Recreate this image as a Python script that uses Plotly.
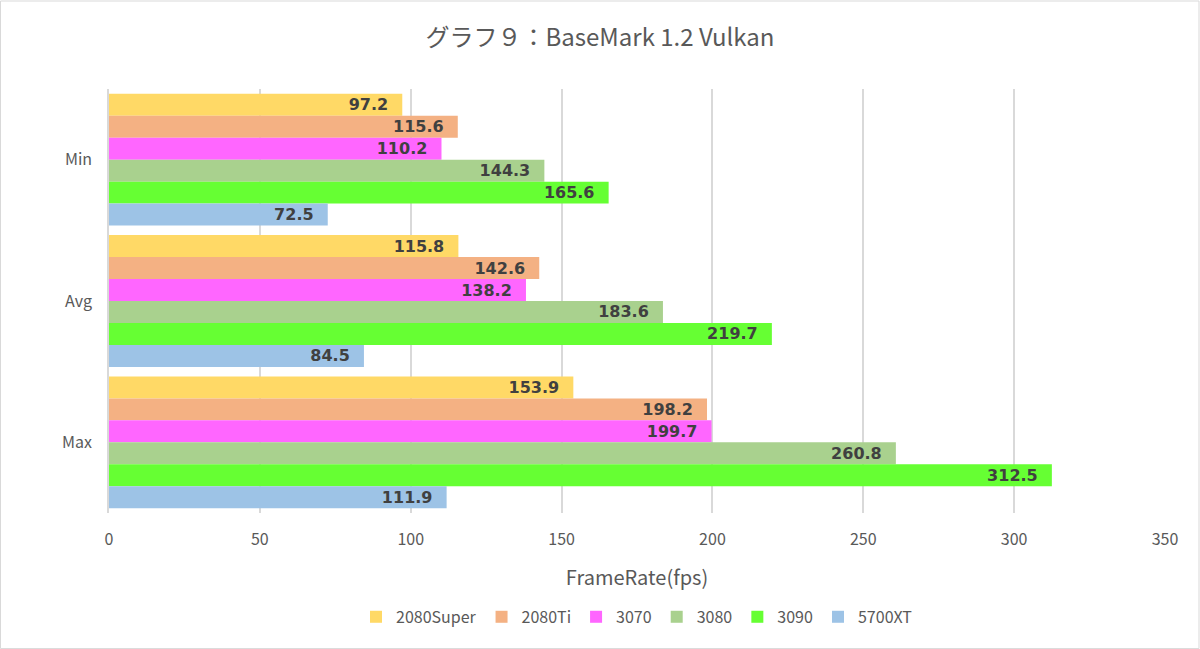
import plotly.graph_objects as go

categories = ["Min", "Avg", "Max"]
series_names = ["2080Super", "2080Ti", "3070", "3080", "3090", "5700XT"]
v_2080super = [97.2, 115.8, 153.9]
v_2080ti = [115.6, 142.6, 198.2]
v_3070 = [110.2, 138.2, 199.7]
v_3080 = [144.3, 183.6, 260.8]
v_3090 = [165.6, 219.7, 312.5]
v_5700xt = [72.5, 84.5, 111.9]
series_values = [v_2080super, v_2080ti, v_3070, v_3080, v_3090, v_5700xt]
colors = ["#FFD966", "#F4B183", "#FF66FF", "#A9D18E", "#66FF33", "#9DC3E6"]
x_ticks = [0, 50, 100, 150, 200, 250, 300, 350]

fig = go.Figure()
for name, vals, col in zip(series_names, series_values, colors):
    fig.add_trace(go.Bar(
        y=categories, x=vals, name=name, orientation="h",
        marker=dict(color=col, line=dict(width=0)),
        text=[f"{v:.1f}\u00a0\u00a0" for v in vals],
        textposition="inside", insidetextanchor="end", constraintext="none",
        textfont=dict(family="DejaVu Sans, Verdana, sans-serif", size=16, color="#404040", weight="bold"),
        cliponaxis=False,
    ))

fig.update_layout(
    width=1200, height=649,
    paper_bgcolor="white", plot_bgcolor="white",
    barmode="group", bargap=0.067, bargroupgap=0,
    margin=dict(l=109, r=35, t=89, b=136),
    title=dict(text="グラフ９：BaseMark 1.2 Vulkan", x=0.5, xanchor="center", y=0.942, yanchor="middle",
               font=dict(family="Noto Sans CJK JP, sans-serif", size=24, color="#595959")),
    legend=dict(orientation="h", x=0.5, xanchor="center", y=-0.245, yanchor="middle",
                font=dict(family="Noto Sans CJK JP, sans-serif", size=16, color="#595959"),
                itemwidth=30, traceorder="normal"),
    font=dict(family="Noto Sans CJK JP, sans-serif", color="#595959"),
)
fig.update_xaxes(
    range=[0, 350], tickvals=x_ticks, showgrid=True, gridcolor="#D9D9D9", gridwidth=1.5,
    zeroline=False, ticks="outside", ticklen=12, tickcolor="rgba(0,0,0,0)",
    tickfont=dict(size=16, color="#595959"),
    title=dict(text="FrameRate(fps)", font=dict(size=20, color="#595959"), standoff=21),
    showline=False,
)
fig.update_yaxes(
    autorange="reversed", showgrid=False, showline=True, linecolor="#D9D9D9", linewidth=1.5,
    ticks="outside", ticklen=12, tickcolor="rgba(0,0,0,0)",
    tickfont=dict(size=16, color="#595959"),
)
fig.add_shape(type="rect", xref="paper", yref="paper",
              x0=-109/1056 + 0.0005, x1=1 + 34/1056, y0=-136/424 + 0.001, y1=1 + 88/424,
              line=dict(color="#D9D9D9", width=1), fillcolor="rgba(0,0,0,0)", layer="below")
fig.write_html("out.html", config={"displayModeBar": False},
               post_script="document.body.style.margin='0';")
